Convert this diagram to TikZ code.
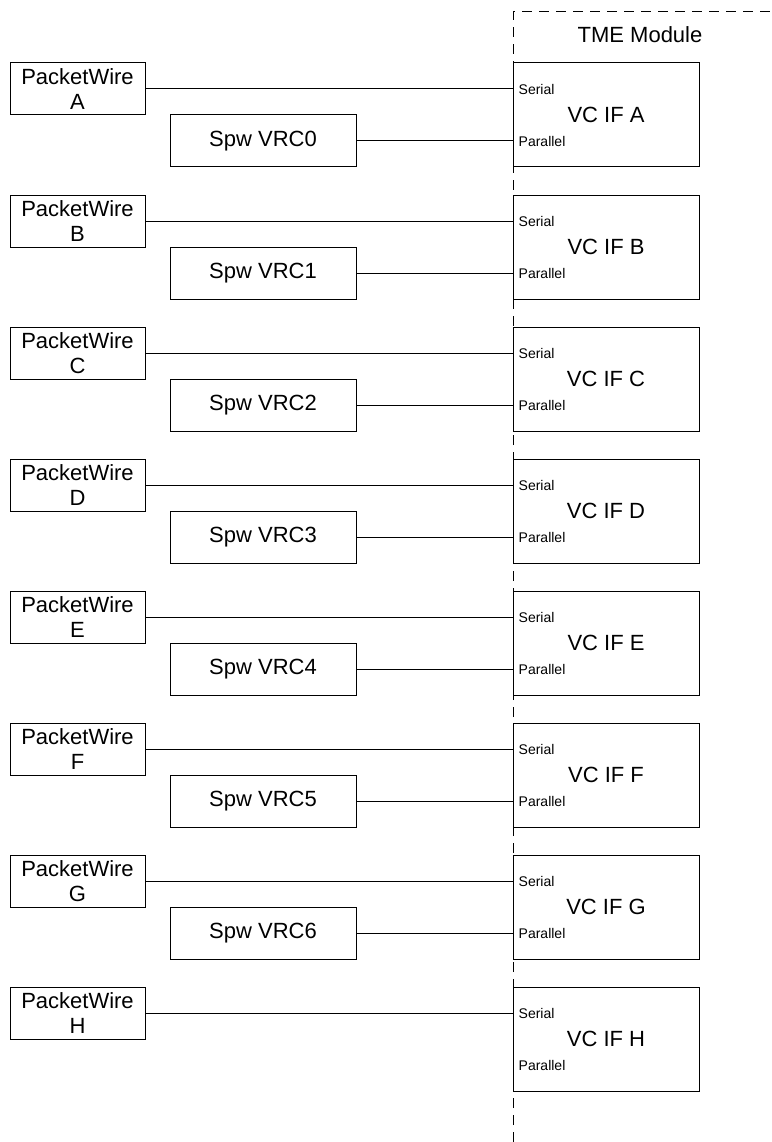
\documentclass[tikz,border=0pt]{standalone}
\usepackage{fontspec}
\setmainfont{Liberation Sans}
\usetikzlibrary{positioning}

\tikzset{
  pwbox/.style={draw, line width=1pt, minimum width=135pt, minimum height=52pt,
                inner sep=0pt, align=center, font=\fontsize{22}{25}\selectfont},
  spwbox/.style={draw, line width=1pt, minimum width=186pt, minimum height=52pt,
                 inner sep=0pt, font=\fontsize{22}{25}\selectfont},
  vcbox/.style={draw, line width=1pt, minimum width=186pt, minimum height=104pt,
                inner sep=0pt, font=\fontsize{22}{25}\selectfont},
  serlbl/.style={anchor=west, inner sep=0pt, xshift=6pt, yshift=26pt,
                 font=\fontsize{14}{16}\selectfont},
  parlbl/.style={anchor=west, inner sep=0pt, xshift=6pt, yshift=-26pt,
                 font=\fontsize{14}{16}\selectfont},
  wire/.style={line width=1pt},
  tmeline/.style={line width=1pt, dash pattern=on 10pt off 7pt},
}

\begin{document}
\begin{tikzpicture}[x=1pt, y=-1pt]
    \useasboundingbox (0,0) rectangle (771,1142);
    % module border
    \draw[tmeline] (513,1142) -- (513,12) -- (771,12);
    \node[font=\fontsize{22}{25}\selectfont] (tme) at (640,35) {TME Module};

    % row A
    \node[pwbox]  (pwA)  at (77.5,89) {PacketWire\\A};
    \node[spwbox] (spw0) at (263,141) {Spw VRC0};
    \node[vcbox]  (vcA)  at (606,115) {VC IF A};
    \node[serlbl] (serA) at (vcA.west) {Serial};
    \node[parlbl] (parA) at (vcA.west) {Parallel};
    \draw[wire] (pwA) -- (pwA -| vcA.west);
    \draw[wire] (spw0) -- (spw0 -| vcA.west);

    % row B
    \node[pwbox]  (pwB)  at (77.5,221) {PacketWire\\B};
    \node[spwbox] (spw1) at (263,273) {Spw VRC1};
    \node[vcbox]  (vcB)  at (606,247) {VC IF B};
    \node[serlbl] (serB) at (vcB.west) {Serial};
    \node[parlbl] (parB) at (vcB.west) {Parallel};
    \draw[wire] (pwB) -- (pwB -| vcB.west);
    \draw[wire] (spw1) -- (spw1 -| vcB.west);

    % row C
    \node[pwbox]  (pwC)  at (77.5,353) {PacketWire\\C};
    \node[spwbox] (spw2) at (263,405) {Spw VRC2};
    \node[vcbox]  (vcC)  at (606,379) {VC IF C};
    \node[serlbl] (serC) at (vcC.west) {Serial};
    \node[parlbl] (parC) at (vcC.west) {Parallel};
    \draw[wire] (pwC) -- (pwC -| vcC.west);
    \draw[wire] (spw2) -- (spw2 -| vcC.west);

    % row D
    \node[pwbox]  (pwD)  at (77.5,485) {PacketWire\\D};
    \node[spwbox] (spw3) at (263,537) {Spw VRC3};
    \node[vcbox]  (vcD)  at (606,511) {VC IF D};
    \node[serlbl] (serD) at (vcD.west) {Serial};
    \node[parlbl] (parD) at (vcD.west) {Parallel};
    \draw[wire] (pwD) -- (pwD -| vcD.west);
    \draw[wire] (spw3) -- (spw3 -| vcD.west);

    % row E
    \node[pwbox]  (pwE)  at (77.5,617) {PacketWire\\E};
    \node[spwbox] (spw4) at (263,669) {Spw VRC4};
    \node[vcbox]  (vcE)  at (606,643) {VC IF E};
    \node[serlbl] (serE) at (vcE.west) {Serial};
    \node[parlbl] (parE) at (vcE.west) {Parallel};
    \draw[wire] (pwE) -- (pwE -| vcE.west);
    \draw[wire] (spw4) -- (spw4 -| vcE.west);

    % row F
    \node[pwbox]  (pwF)  at (77.5,749) {PacketWire\\F};
    \node[spwbox] (spw5) at (263,801) {Spw VRC5};
    \node[vcbox]  (vcF)  at (606,775) {VC IF F};
    \node[serlbl] (serF) at (vcF.west) {Serial};
    \node[parlbl] (parF) at (vcF.west) {Parallel};
    \draw[wire] (pwF) -- (pwF -| vcF.west);
    \draw[wire] (spw5) -- (spw5 -| vcF.west);

    % row G
    \node[pwbox]  (pwG)  at (77.5,881) {PacketWire\\G};
    \node[spwbox] (spw6) at (263,933) {Spw VRC6};
    \node[vcbox]  (vcG)  at (606,907) {VC IF G};
    \node[serlbl] (serG) at (vcG.west) {Serial};
    \node[parlbl] (parG) at (vcG.west) {Parallel};
    \draw[wire] (pwG) -- (pwG -| vcG.west);
    \draw[wire] (spw6) -- (spw6 -| vcG.west);

    % row H: no Spw VRC
    \node[pwbox]  (pwH)  at (77.5,1013) {PacketWire\\H};
    \node[vcbox]  (vcH)  at (606,1039) {VC IF H};
    \node[serlbl] (serH) at (vcH.west) {Serial};
    \node[parlbl] (parH) at (vcH.west) {Parallel};
    \draw[wire] (pwH) -- (pwH -| vcH.west);
\end{tikzpicture}
\end{document}
